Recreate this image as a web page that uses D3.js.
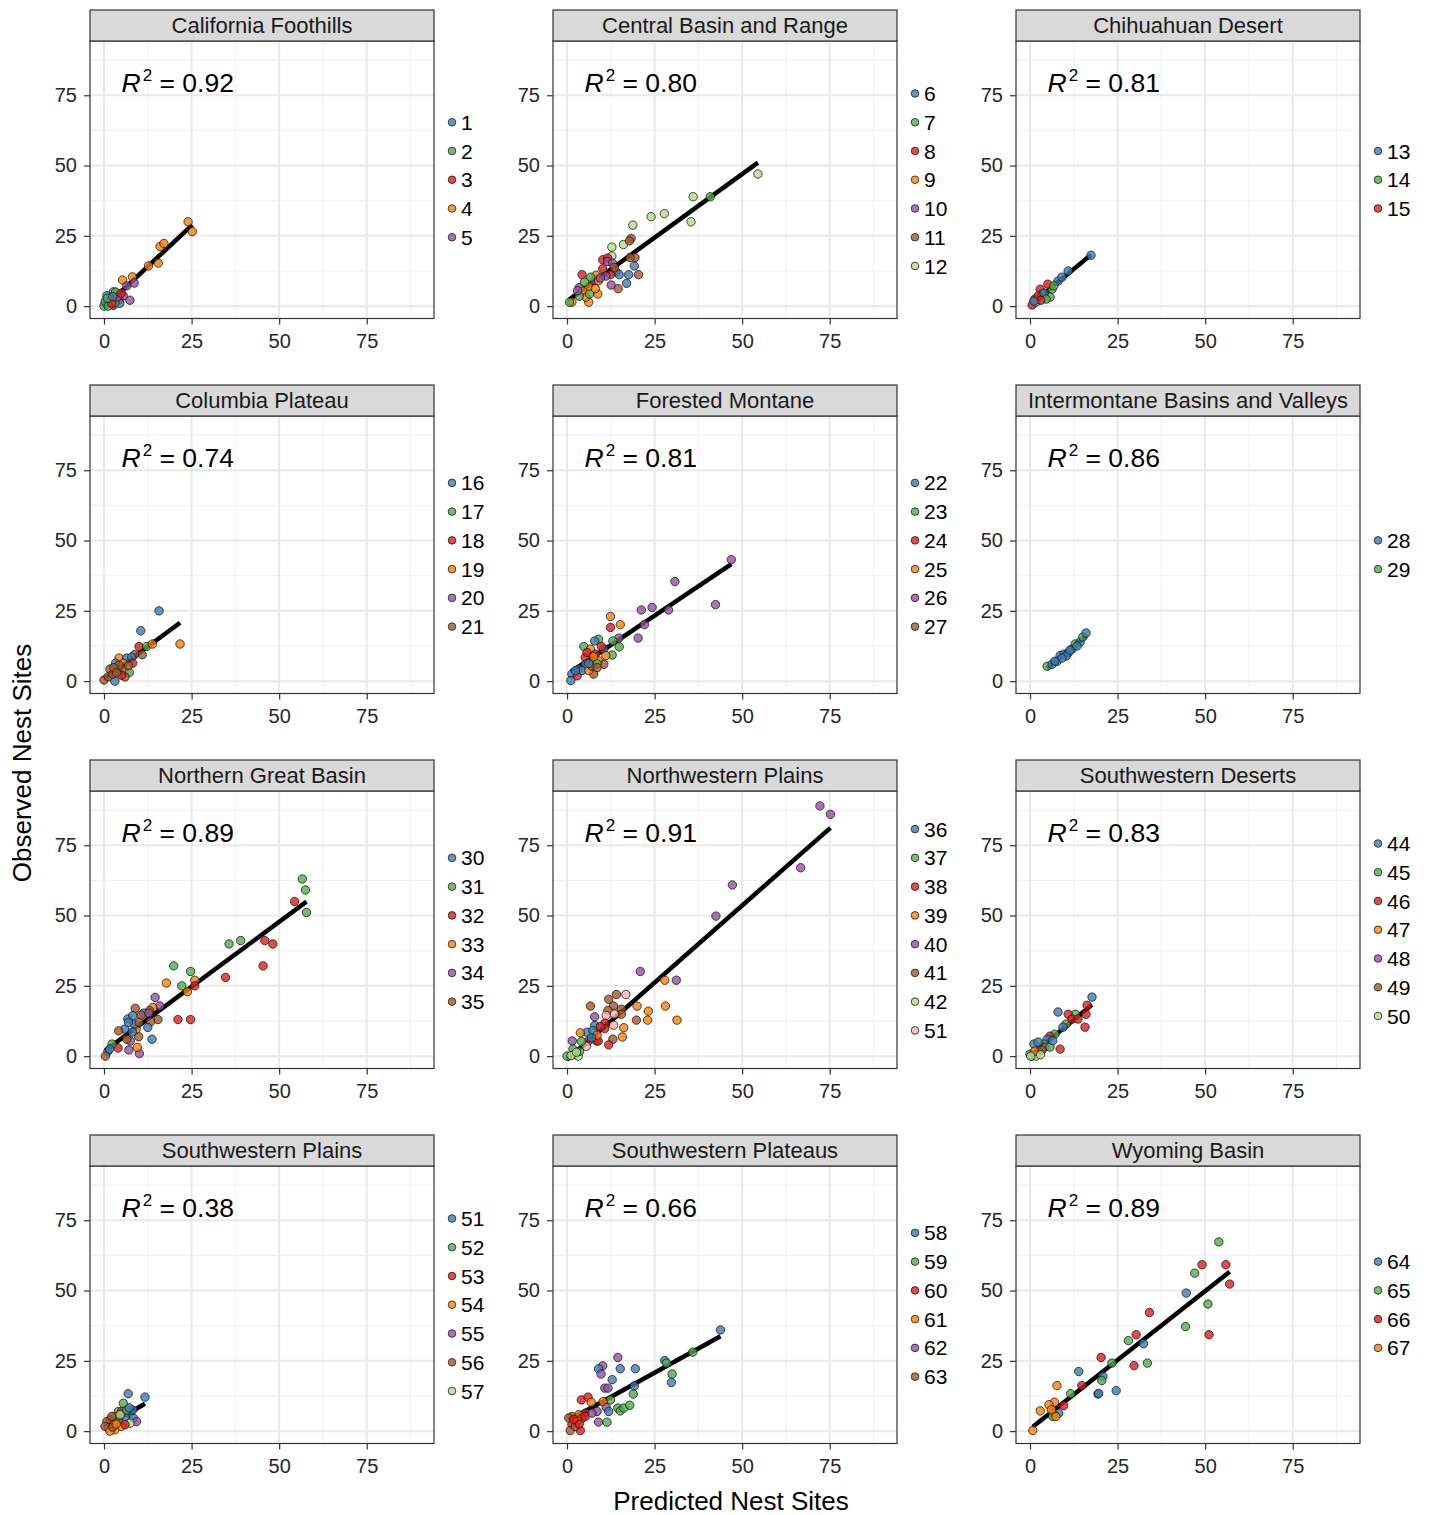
<!DOCTYPE html>
<html>
<head>
<meta charset="utf-8">
<script src="https://cdn.jsdelivr.net/npm/d3@7"></script>
<style>
  body { margin: 0; background: #fff; }
  svg { display: block; font-family: "Liberation Sans", Arial, Helvetica, sans-serif; }
</style>
</head>
<body>
<svg id="chart" width="1429" height="1515"></svg>
<script>
// ---- data -------------------------------------------------------------
const regionNames = [
  "California Foothills", "Central Basin and Range", "Chihuahuan Desert",
  "Columbia Plateau", "Forested Montane", "Intermontane Basins and Valleys",
  "Northern Great Basin", "Northwestern Plains", "Southwestern Deserts",
  "Southwestern Plains", "Southwestern Plateaus", "Wyoming Basin"
];
const r2Labels = ["0.92", "0.80", "0.81", "0.74", "0.81", "0.86",
                  "0.89", "0.91", "0.83", "0.38", "0.66", "0.89"];
const legendIds = [
  [1, 2, 3, 4, 5], [6, 7, 8, 9, 10, 11, 12], [13, 14, 15],
  [16, 17, 18, 19, 20, 21], [22, 23, 24, 25, 26, 27], [28, 29],
  [30, 31, 32, 33, 34, 35], [36, 37, 38, 39, 40, 41, 42, 51], [44, 45, 46, 47, 48, 49, 50],
  [51, 52, 53, 54, 55, 56, 57], [58, 59, 60, 61, 62, 63], [64, 65, 66, 67]
];
const xTicks = [0, 25, 50, 75];
const yTicks = [0, 25, 50, 75];

// each point: [predicted, observed, site id]
const californiaFoothills = [
  [24,30,4],[25.2,26.5,4],[16,21.2,4],[17.1,22.3,4],[12.7,14.3,4],[15.5,15.3,4],[8.1,10.4,4],[5.3,9.3,4],
  [8.6,8.2,5],[6.5,7.2,5],[7.4,2.1,5],[5.5,3.7,5],[0,0,2],[2.7,5.1,2],[3.3,5,2],[0.8,3.7,1],[1.9,2.5,4],
  [2.7,0.3,3],[4.3,2.3,3],[4.5,1,1],[1.7,1.7,2],[3.1,1.2,2],[0.3,1.5,1],[1.2,0,2],[2.2,1,3],[3.8,3.2,5],
  [4.9,4.6,3],[1,2.8,2],[2.5,3.4,1]
];
const centralBasinRange = [
  [54.5,47,12],[40.9,38.9,7],[36,38.9,12],[35.4,30,12],[27.8,32.9,12],[24,31.8,12],[18.8,28.8,12],
  [16.1,21.9,12],[12.8,21,12],[12.8,17.8,12],[18.3,24.1,11],[17.8,23.2,11],[19.4,17.3,11],[18,17.3,11],
  [20.4,11.2,11],[14.6,6.2,11],[14,12.2,11],[19.2,14.3,6],[17.6,11.2,6],[17,8.1,6],[14.9,11.2,6],
  [4.3,11.2,8],[10.2,16.5,8],[11.6,17.1,8],[10.2,13.3,8],[12.4,11.2,8],[11.6,15.9,10],[13,15.3,10],
  [11.1,10.7,10],[12.6,7.5,10],[3.5,6.6,10],[7.8,9,10],[8.3,11,9],[9,9,9],[6.2,6.9,9],[8.8,4.3,9],
  [6.2,1.4,9],[1.4,1.4,9],[4.5,5.3,9],[8.1,6.2,9],[5.4,3.2,9],[6.4,4.3,7],[3.5,3.5,7],[5,8.5,7],
  [6.8,10.3,7],[0.7,1.4,7],[9.5,10,10],[3,5.5,10],[13.5,13.8,11]
];
const chihuahuanDesert = [
  [17.4,18.1,13],[10.9,12.5,13],[6.3,6,14],[5.7,3.2,14],[5.1,7.8,15],[8,8.9,13],[9.1,10.3,13],[2.9,6,15],
  [3.4,4.3,14],[1.4,2.5,15],[0.6,0.4,15],[1.7,1.4,14],[2.3,3.6,15],[4,4.6,13],[4.6,2.5,14],[3.1,2.1,15],
  [1.1,1.8,13],[6.8,7.2,14]
];
const columbiaPlateau = [
  [15.7,25,16],[10.5,17.9,16],[21.7,13.2,19],[10,12.3,18],[12.2,12.3,17],[13.8,13.2,19],[10.9,9.4,21],
  [8.7,9.4,21],[4.3,8.2,19],[3.3,6.4,16],[6.5,8.2,16],[7.9,8.5,16],[8.2,6.4,18],[5.5,6.4,19],[1.7,4.3,21],
  [4.1,3.7,21],[5.5,4.3,21],[7.2,3.1,17],[3.1,0,16],[0,0.4,21],[1.2,1.6,21],[2.5,2.5,21],[6,1.5,21],
  [5,2.1,18],[4.3,5.6,21],[2.8,4.8,21],[7,5.5,21],[3.6,3,21]
];
const forestedMontane = [
  [46.9,43.2,26],[30.8,35.4,26],[42.4,27.2,26],[29,25.3,26],[24.3,26.2,26],[21.2,25.3,26],[22.1,20.1,26],
  [20.3,15.3,26],[14.8,15.3,26],[12.4,23,25],[15.2,20.1,25],[12.4,19.1,24],[13.1,14.3,23],[14.9,12.2,23],
  [12.9,9.3,23],[9,14.9,23],[4.8,12.3,23],[7.9,14.3,22],[10.5,11.4,22],[9.8,12.3,24],[6.7,11.4,25],
  [11.1,9.1,25],[5.2,8.4,24],[8.1,9.6,24],[9,7.2,25],[10.5,6,27],[7.6,2.5,27],[5.2,6,22],[3.3,4.3,22],
  [1.4,2.5,22],[1.1,0.2,22],[2.9,1.9,24],[4.3,3.8,22],[6.2,3.8,25],[7.1,5.3,27],[8.6,6.2,23],[6.2,6.3,22],
  [2.4,3.7,22],[5.7,10.2,24],[8.6,4.8,27],[7.6,8.7,25]
];
const intermontaneBasins = [
  [4.9,5.3,29],[6.3,6,28],[7.7,7,28],[8.6,9.1,28],[9.7,9.6,28],[10.9,10,28],[12,11.4,28],[12.9,13.2,29],
  [14.3,13.9,28],[15.1,15.7,29],[16,17.1,28],[10.3,8.9,28],[11.4,11,28],[13.4,12.5,28],[9.1,8.2,28],[7.1,7.1,28]
];
const northernGreatBasin = [
  [56.6,63,31],[57.5,59.1,31],[57.8,51.1,31],[54.4,55,32],[45.9,41.1,32],[48.2,39.9,32],[45.4,32.1,32],
  [39,41.1,31],[35.7,39.9,31],[34.7,28,32],[19.9,32.1,31],[24.7,30.1,31],[25.9,27,33],[25.9,25,32],
  [23.8,22.9,33],[22.2,25,31],[17.8,26,33],[21.1,13,32],[24.7,13,32],[14.6,20.9,34],[15.9,17.9,34],
  [13.9,17.3,33],[15.4,13,35],[13,16.2,35],[11.3,15.3,30],[8.9,17,35],[6.8,13.2,30],[8.2,14.4,30],
  [10.6,14.6,35],[12.8,15.3,34],[13.3,12.2,35],[12.5,10.2,30],[13.7,6,30],[9.9,6.9,35],[9.2,9.6,33],
  [8.7,11.4,30],[5.9,9.6,30],[4.2,9,35],[8.1,8.6,30],[7.5,5.4,34],[6.5,6,35],[7.1,2.2,34],[10.1,0.9,34],
  [9.5,3.1,33],[4,2.9,32],[2.3,4.3,31],[1.1,1.6,30],[0.4,0,35],[1.6,2.5,30],[7,12,30],[10,12,35]
];
const northwesternPlains = [
  [72.2,89,40],[75.2,86,40],[66.7,67,40],[47.2,60.9,40],[42.5,49.8,40],[20.9,30.1,40],[31.2,27,40],
  [27.9,27,39],[28.1,17.8,39],[31.4,12.8,39],[20,17.8,39],[23.2,16,39],[23,12.8,39],[19.8,12.8,41],
  [16.2,10.1,39],[15.8,6.8,39],[16.8,21.9,51],[14.1,21.9,41],[11.9,20.2,41],[13.3,17.8,41],[6.7,17.8,41],
  [15.5,16.7,41],[15.5,14.9,41],[7.9,14,40],[11.7,16.3,41],[11.2,14.5,51],[10.8,11.7,38],[10.8,9.8,38],
  [13.3,11,51],[13.1,6,41],[11.9,4,38],[7.9,10.9,36],[5.7,8.5,36],[7.4,9.1,36],[3.8,8.3,39],[6,5.2,38],
  [8.4,5.4,38],[8.9,5.4,38],[8.6,7.5,39],[5.5,3.5,51],[4.1,5.2,37],[1.5,5.4,40],[1.7,2.5,37],[0,0,37],
  [2.2,0.6,42],[3.2,0,42],[3.6,1.7,37],[1.2,0.2,42],[2.7,1.4,42],[13.5,15,51],[9.5,10.5,38],[7,6.5,36]
];
const southwesternDeserts = [
  [17.7,21,44],[16,14.9,46],[15.7,10.3,46],[16.3,18.1,46],[12.9,14.9,45],[10.9,14.9,46],[8.6,2.5,46],
  [8,15.7,44],[10.3,11.4,45],[12,13.2,46],[9.4,10.3,44],[7.1,7.8,45],[5.7,7.1,46],[4.9,6,44],[4,4.3,45],
  [1.1,4.3,44],[2.9,2.5,44],[0.6,0,50],[1.7,0,50],[0,0.7,45],[2.3,5,44],[1.4,1.8,47],[4.3,3.2,48],
  [3.4,2.1,49],[5.7,3.2,45],[0.2,0,50],[13.7,13.2,46],[6.5,5.5,44],[3,0.5,50]
];
const southwesternPlains = [
  [6.9,13.3,51],[11.7,12.1,51],[7.4,6.4,51],[8.2,7.5,51],[8.4,4.6,51],[9.3,3.4,55],[7.4,2.8,57],[5.5,9.9,52],
  [4.1,7,52],[5,7,53],[3.1,5.2,52],[1.7,4,53],[0.8,3.4,56],[2.7,2.3,54],[1.2,1.1,54],[3.1,0.5,54],
  [2.2,5.2,56],[6,5.2,51],[4.1,3.4,56],[5,1.7,54],[6.5,7.5,52],[4.6,5.8,57],[0.3,1.7,56],[1.7,0,54],
  [6,2.3,53],[7.2,8.3,51],[2.5,1.5,56],[3.5,2.5,54]
];
const southwesternPlateaus = [
  [43.8,36,58],[35.9,28.1,59],[27.9,25.1,58],[28.4,24.2,59],[30,20.3,59],[29.8,17.3,58],[19.2,16.1,58],
  [18.9,13.2,59],[19.5,22.2,58],[15.2,22.2,58],[14.5,26.2,62],[10.2,23.2,62],[9,22.2,58],[9.7,20.3,62],
  [12.9,18.3,58],[10.8,15.3,62],[11.7,15.3,62],[12.4,11.1,59],[10.3,10.5,61],[14.5,8.2,59],[15.2,7.2,59],
  [16.2,8.2,59],[17.9,9.2,59],[11.2,8.4,62],[11.9,7,58],[9,3.2,62],[11.4,3.2,59],[4.1,11.1,60],[6,12.1,60],
  [6.9,10.3,61],[8.6,7,62],[5.2,6.4,60],[3.3,5.8,61],[1.4,5.2,63],[4.3,4.6,60],[1.4,2.4,60],[0.9,0.2,63],
  [3.8,0.2,60],[2.9,3.5,61],[2.4,1.7,63],[3.5,2.5,60],[5.2,5.2,60],[7.1,6.4,62],[0.5,4.7,63],[1.9,4.1,60]
];
const wyomingBasin = [
  [53.9,67.3,65],[49.1,59.2,66],[47,56.2,65],[55.9,59.2,66],[57,52.3,66],[44.6,49.1,64],[50.8,45.2,65],
  [44.4,37.2,65],[51.1,34.3,66],[34.1,42.2,66],[30.3,34.3,66],[28.1,32.2,65],[32.4,31.1,64],[33.5,24.2,65],
  [29.7,23.3,66],[23.4,24.2,65],[20.3,26.2,66],[20.8,19.5,64],[20.5,18,65],[19.4,13.2,64],[24.6,14.4,64],
  [13.9,21.2,64],[14.8,16.2,66],[11.6,13.3,65],[7.7,16.2,67],[9.6,9.1,66],[7,10.3,67],[5.4,9.4,67],
  [2.9,7.2,67],[8.2,6.4,64],[6.5,6.4,67],[6.5,5.2,65],[7.4,5.2,67],[6.1,7.6,67],[0.8,0.2,67],[19.6,13.4,64]
];
const regionPoints = [
  californiaFoothills, centralBasinRange, chihuahuanDesert,
  columbiaPlateau, forestedMontane, intermontaneBasins,
  northernGreatBasin, northwesternPlains, southwesternDeserts,
  southwesternPlains, southwesternPlateaus, wyomingBasin
];
const palette = ["#377eb8", "#4daf4a", "#e41a1c", "#ff7f00", "#984ea3", "#a65628", "#b2df8a", "#fbb4ae"];

// ---- layout -----------------------------------------------------------
const svg = d3.select("#chart");
svg.append("rect").attr("width", 1429).attr("height", 1515).attr("fill", "#fff");

const colLeft = [90, 553, 1016];
const plotTop = [41, 416, 791, 1166];
const panelW = 344, panelH = 277.5, stripH = 31;

const x = d3.scaleLinear().domain([-4, 94.2]).range([0, panelW]);
const y = d3.scaleLinear().domain([-4.4, 94.3]).range([panelH, 0]);

// least-squares line over the observed range of predictions
function linearFit(pts) {
  const mx = d3.mean(pts, d => d[0]), my = d3.mean(pts, d => d[1]);
  let sxy = 0, sxx = 0;
  pts.forEach(d => { sxy += (d[0] - mx) * (d[1] - my); sxx += (d[0] - mx) ** 2; });
  const b = sxy / sxx, a = my - b * mx;
  const [x0, x1] = d3.extent(pts, d => d[0]);
  return [[x0, a + b * x0], [x1, a + b * x1]];
}

regionNames.forEach((name, i) => {
  const c = i % 3, r = Math.floor(i / 3);
  const g = svg.append("g").attr("transform", `translate(${colLeft[c]},${plotTop[r]})`);
  const pts = regionPoints[i];
  const ids = legendIds[i];
  const color = d3.scaleOrdinal().domain(ids).range(palette);

  // grid
  const minor = [12.5, 37.5, 62.5, 87.5];
  g.selectAll(".gx-minor").data(minor).join("line")
    .attr("x1", d => x(d)).attr("x2", d => x(d)).attr("y1", 0).attr("y2", panelH)
    .attr("stroke", "#f2f2f2").attr("stroke-width", 1.1);
  g.selectAll(".gy-minor").data(minor).join("line")
    .attr("y1", d => y(d)).attr("y2", d => y(d)).attr("x1", 0).attr("x2", panelW)
    .attr("stroke", "#f2f2f2").attr("stroke-width", 1.1);
  g.selectAll(".gx").data(xTicks).join("line")
    .attr("x1", d => x(d)).attr("x2", d => x(d)).attr("y1", 0).attr("y2", panelH)
    .attr("stroke", "#e9e9e9").attr("stroke-width", 2);
  g.selectAll(".gy").data(yTicks).join("line")
    .attr("y1", d => y(d)).attr("y2", d => y(d)).attr("x1", 0).attr("x2", panelW)
    .attr("stroke", "#e9e9e9").attr("stroke-width", 2);

  // regression line
  const fit = linearFit(pts);
  g.append("path")
    .attr("d", d3.line().x(d => x(d[0])).y(d => y(d[1]))(fit))
    .attr("fill", "none").attr("stroke", "#000").attr("stroke-width", 4.5);

  // points
  g.selectAll(".pt").data(pts).join("circle")
    .attr("cx", d => x(d[0])).attr("cy", d => y(d[1])).attr("r", 4.2)
    .attr("fill", d => color(d[2])).attr("fill-opacity", 0.8)
    .attr("stroke", "#1a1a1a").attr("stroke-width", 0.8);

  // R² annotation
  const t = g.append("text").attr("x", x(5)).attr("y", y(76))
    .attr("font-size", 26.5).attr("fill", "#000");
  t.append("tspan").attr("font-style", "italic").text("R");
  t.append("tspan").attr("font-size", 17).attr("dy", -11).attr("dx", 2).text("2");
  t.append("tspan").attr("dy", 11).text(" = " + r2Labels[i]);

  // panel border
  g.append("rect").attr("width", panelW).attr("height", panelH)
    .attr("fill", "none").attr("stroke", "#333").attr("stroke-width", 1.2);

  // strip
  g.append("rect").attr("y", -stripH).attr("width", panelW).attr("height", stripH)
    .attr("fill", "#d9d9d9").attr("stroke", "#333").attr("stroke-width", 1.2);
  g.append("text").attr("x", panelW / 2).attr("y", -8).attr("text-anchor", "middle")
    .attr("font-size", 22).attr("fill", "#1a1a1a").text(name);

  // axes
  const ax = g.append("g").attr("transform", `translate(0,${panelH})`)
    .call(d3.axisBottom(x).tickValues(xTicks).tickSize(6).tickPadding(9).tickFormat(d3.format("d")));
  const ay = g.append("g")
    .call(d3.axisLeft(y).tickValues(yTicks).tickSize(6).tickPadding(7).tickFormat(d3.format("d")));
  [ax, ay].forEach(a => {
    a.select(".domain").remove();
    a.selectAll(".tick line").attr("stroke", "#333").attr("stroke-width", 1.2);
    a.selectAll(".tick text").attr("font-size", 20).attr("fill", "#262626")
      .attr("font-family", "'Liberation Sans', Arial, sans-serif");
  });

  // legend
  const step = 28.75;
  const lg = g.append("g")
    .attr("transform", `translate(${panelW + 18},${panelH / 2 - (ids.length - 1) * step / 2})`);
  const item = lg.selectAll(".key").data(ids).join("g")
    .attr("transform", (d, k) => `translate(0,${k * step})`);
  item.append("circle").attr("r", 3.8)
    .attr("fill", d => color(d)).attr("fill-opacity", 0.8)
    .attr("stroke", "#1a1a1a").attr("stroke-width", 0.8);
  item.append("text").attr("x", 9).attr("dy", "0.36em")
    .attr("font-size", 21).attr("fill", "#000").text(d => d);
});

// axis titles
svg.append("text").attr("transform", "translate(31,763) rotate(-90)")
  .attr("text-anchor", "middle").attr("font-size", 26).attr("fill", "#000")
  .text("Observed Nest Sites");
svg.append("text").attr("x", 731).attr("y", 1510)
  .attr("text-anchor", "middle").attr("font-size", 26).attr("fill", "#000")
  .text("Predicted Nest Sites");
</script>
</body>
</html>
